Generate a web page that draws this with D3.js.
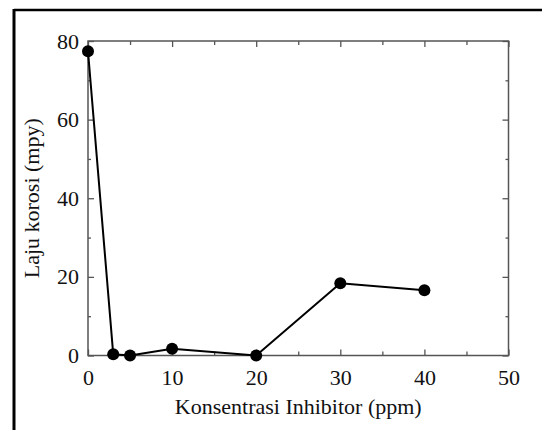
<!DOCTYPE html>
<html>
<head>
<meta charset="utf-8">
<script src="https://cdn.jsdelivr.net/npm/d3@7"></script>
<style>
  body { margin: 0; background: #fff; }
  svg { display: block; }
</style>
</head>
<body>
<div id="container"></div>
<script>
// data
const konsentrasi = [0, 3, 5, 10, 20, 30, 40];
const lajuKorosi = [77.4, 0.3, 0.0, 1.7, 0.0, 18.4, 16.6];
const xTicks = [0, 10, 20, 30, 40, 50];
const yTicks = [0, 20, 40, 60, 80];
const xMinor = [5, 15, 25, 35, 45];
const yMinor = [10, 30, 50, 70];

const width = 542;
const height = 430;
const margin = { top: 41, right: 33.5, bottom: 74.5, left: 88 };

const svg = d3.select("#container")
    .append("svg")
    .attr("width", width)
    .attr("height", height);

const x = d3.scaleLinear()
    .domain([0, 50])
    .range([margin.left, width - margin.right]);

const y = d3.scaleLinear()
    .domain([0, 80])
    .range([height - margin.bottom, margin.top]);

const axisColor = "#555";
const textColor = "#111";
const font = "'Liberation Serif', 'Times New Roman', serif";
const fontSize = "22px";

// outer frame (only top and left edges show)
svg.append("line")
    .attr("x1", 14).attr("x2", width).attr("y1", 10).attr("y2", 10)
    .attr("stroke", "#000").attr("stroke-width", 2.5);
svg.append("line")
    .attr("x1", 14).attr("x2", 14).attr("y1", 9).attr("y2", height)
    .attr("stroke", "#000").attr("stroke-width", 3);

// plot box
svg.append("rect")
    .attr("x", x(0)).attr("y", y(80))
    .attr("width", x(50) - x(0)).attr("height", y(0) - y(80))
    .attr("fill", "none").attr("stroke", axisColor).attr("stroke-width", 1.5);

function styleAxis(g) {
    g.select(".domain").remove();
    g.selectAll(".tick line").attr("stroke", axisColor).attr("stroke-width", 1.3);
    g.selectAll(".tick text")
        .attr("font-family", font)
        .attr("font-size", fontSize)
        .attr("fill", textColor);
}

// bottom axis with labels, ticks pointing inward
svg.append("g")
    .attr("transform", `translate(0,${y(0)})`)
    .call(d3.axisBottom(x).tickValues(xTicks).tickSizeInner(-6).tickSizeOuter(0).tickPadding(14))
    .call(styleAxis);
svg.append("g")
    .attr("transform", `translate(0,${y(0)})`)
    .call(d3.axisBottom(x).tickValues(xMinor).tickSizeInner(-4).tickSizeOuter(0).tickFormat(""))
    .call(styleAxis);

// top axis
svg.append("g")
    .attr("transform", `translate(0,${y(80)})`)
    .call(d3.axisTop(x).tickValues(xTicks).tickSizeInner(-6).tickSizeOuter(0).tickFormat(""))
    .call(styleAxis);
svg.append("g")
    .attr("transform", `translate(0,${y(80)})`)
    .call(d3.axisTop(x).tickValues(xMinor).tickSizeInner(-4).tickSizeOuter(0).tickFormat(""))
    .call(styleAxis);

// left axis with labels
svg.append("g")
    .attr("transform", `translate(${x(0)},0)`)
    .call(d3.axisLeft(y).tickValues(yTicks).tickSizeInner(-6).tickSizeOuter(0).tickPadding(9))
    .call(styleAxis);
svg.append("g")
    .attr("transform", `translate(${x(0)},0)`)
    .call(d3.axisLeft(y).tickValues(yMinor).tickSizeInner(-3).tickSizeOuter(0).tickFormat(""))
    .call(styleAxis);

// right axis
svg.append("g")
    .attr("transform", `translate(${x(50)},0)`)
    .call(d3.axisRight(y).tickValues(yTicks).tickSizeInner(-6).tickSizeOuter(0).tickFormat(""))
    .call(styleAxis);
svg.append("g")
    .attr("transform", `translate(${x(50)},0)`)
    .call(d3.axisRight(y).tickValues(yMinor).tickSizeInner(-3).tickSizeOuter(0).tickFormat(""))
    .call(styleAxis);

// axis titles
svg.append("text")
    .attr("x", (x(0) + x(50)) / 2)
    .attr("y", 414)
    .attr("text-anchor", "middle")
    .attr("font-family", font)
    .attr("font-size", fontSize)
    .attr("fill", textColor)
    .text("Konsentrasi Inhibitor (ppm)");

svg.append("text")
    .attr("transform", `translate(39,${(y(0) + y(80)) / 2}) rotate(-90)`)
    .attr("text-anchor", "middle")
    .attr("font-family", font)
    .attr("font-size", fontSize)
    .attr("fill", textColor)
    .text("Laju korosi (mpy)");

// line and markers
const points = konsentrasi.map((k, i) => ({ k, v: lajuKorosi[i] }));

svg.append("path")
    .datum(points)
    .attr("fill", "none")
    .attr("stroke", "#000")
    .attr("stroke-width", 2)
    .attr("d", d3.line().x(d => x(d.k)).y(d => y(d.v)));

svg.append("g")
    .selectAll("circle")
    .data(points)
    .join("circle")
    .attr("cx", d => x(d.k))
    .attr("cy", d => y(d.v))
    .attr("r", 6)
    .attr("fill", "#000");
</script>
</body>
</html>
